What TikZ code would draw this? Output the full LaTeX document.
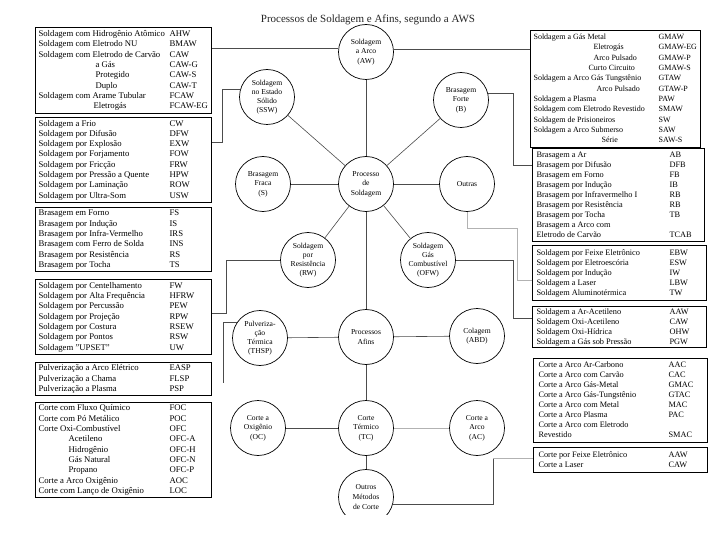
\documentclass[tikz,border=0pt]{standalone}
\usepackage{fontspec}
\setmainfont{Liberation Serif}
\usepackage{array}
\usetikzlibrary{calc}
\newcolumntype{L}[1]{>{\hbox to #1\bgroup}l<{\hss\egroup}}
\begin{document}
\begin{tikzpicture}[x=1pt,y=-1pt,
  circ/.style={draw=black, line width=0.7pt, circle, minimum size=55pt, inner sep=0pt, align=center, font=\fontsize{7.6}{9.6}\selectfont},
  circf/.style={circ, font=\fontsize{7.6}{9}\selectfont},
  lbox/.style={draw=black, line width=1.1pt, anchor=north west, inner ysep=0pt, font=\fontsize{8.7}{10.3}\selectfont},
  rbox/.style={lbox, font=\fontsize{8.3}{10}\selectfont},
  conn/.style={draw=black!70, line width=0.6pt},
  faint/.style={draw=black!30, line width=0.6pt}]
\useasboundingbox[fill=white] (0,0) rectangle (720,540);

\node[font=\fontsize{11}{13}\selectfont, text=black!85] (title) at (368,20) {Processos de Soldagem e Afins, segundo a AWS};

% ---------- circles ----------
\node[circ]  (AW)   at (366,52)  {Soldagem\\a Arco\\(AW)};
\node[circf] (SSW)  at (267,97)  {Soldagem\\no Estado\\Sólido\\(SSW)};
\node[circ]  (B)    at (461,100) {Brasagem\\Forte\\(B)};
\node[circ]  (P)    at (366,184) {Processo\\de\\Soldagem};
\node[circ]  (S)    at (263,184) {Brasagem\\Fraca\\(S)};
\node[circ]  (Out)  at (467,184) {Outras};
\node[circf] (RW)   at (308,260) {Soldagem\\por\\Resistência\\(RW)};
\node[circf] (OFW)  at (428,260) {Soldagem\\Gás\\Combustível\\(OFW)};
\node[circf] (THSP) at (260,338) {Pulveriza-\\ção\\Térmica\\(THSP)};
\node[circ]  (Af)   at (366,337) {Processos\\Afins};
\node[circ]  (ABD)  at (477,336) {Colagem\\(ABD)};
\node[circ]  (OC)   at (258,428) {Corte a\\Oxigênio\\(OC)};
\node[circ]  (TC)   at (366,428) {Corte\\Térmico\\(TC)};
\node[circ]  (AC)   at (477,428) {Corte a\\Arco\\(AC)};
\node[circ, draw=none] (OM) at (366,497) {Outros\\Métodos\\de Corte};
\begin{scope}
  \clip (320,460) rectangle (412,514);
  \draw[line width=0.7pt] (OM.center) circle[radius=27.5pt];
\end{scope}

% ---------- left boxes ----------
\node[lbox, minimum width=164pt, minimum height=86pt, inner xsep=3pt] (b1) at (35,27) {%
\begin{tabular}{@{}L{119pt}L{39pt}@{}}
Soldagem com Hidrogênio Atômico & AHW\\
Soldagem com Eletrodo NU & BMAW\\
Soldagem com Eletrodo de Carvão & CAW\\
\hspace*{57pt}a Gás & CAW-G\\
\hspace*{57pt}Protegido & CAW-S\\
\hspace*{57pt}Duplo & CAW-T\\
Soldagem com Arame Tubular & FCAW\\
\hspace*{55pt}Eletrogás & FCAW-EG
\end{tabular}};

\node[lbox, minimum width=164pt, minimum height=85pt, inner xsep=3pt] (b2) at (35,117) {%
\begin{tabular}{@{}L{119pt}L{39pt}@{}}
Soldagem a Frio & CW\\
Soldagem por Difusão & DFW\\
Soldagem por Explosão & EXW\\
Soldagem por Forjamento & FOW\\
Soldagem por Fricção & FRW\\
Soldagem por Pressão a Quente & HPW\\
Soldagem por Laminação & ROW\\
Soldagem por Ultra-Som & USW
\end{tabular}};

\node[lbox, minimum width=164pt, minimum height=64pt, inner xsep=3pt] (b3) at (35,207) {%
\begin{tabular}{@{}L{119pt}L{39pt}@{}}
Brasagem em Forno & FS\\
Brasagem por Indução & IS\\
Brasagem por Infra-Vermelho & IRS\\
Brasagem com Ferro de Solda & INS\\
Brasagem por Resistência & RS\\
Brasagem por Tocha & TS
\end{tabular}};

\node[lbox, minimum width=164pt, minimum height=75pt, inner xsep=3pt] (b4) at (35,279) {%
\begin{tabular}{@{}L{119pt}L{39pt}@{}}
Soldagem por Centelhamento & FW\\
Soldagem por Alta Frequência & HFRW\\
Soldagem por Percussão & PEW\\
Soldagem por Projeção & RPW\\
Soldagem por Costura & RSEW\\
Soldagem por Pontos & RSW\\
Soldagem "UPSET" & UW
\end{tabular}};

\node[lbox, minimum width=164pt, minimum height=33pt, inner xsep=3pt] (b5) at (35,362) {%
\begin{tabular}{@{}L{119pt}L{39pt}@{}}
Pulverização a Arco Elétrico & EASP\\
Pulverização a Chama & FLSP\\
Pulverização a Plasma & PSP
\end{tabular}};

\node[lbox, minimum width=164pt, minimum height=95pt, inner xsep=3pt] (b6) at (35,402) {%
\begin{tabular}{@{}L{119pt}L{39pt}@{}}
Corte com Fluxo Químico & FOC\\
Corte com Pó Metálico & POC\\
Corte Oxi-Combustível & OFC\\
\hspace*{30pt}Acetileno & OFC-A\\
\hspace*{30pt}Hidrogênio & OFC-H\\
\hspace*{30pt}Gás Natural & OFC-N\\
\hspace*{30pt}Propano & OFC-P\\
Corte a Arco Oxigênio & AOC\\
Corte com Lanço de Oxigênio & LOC
\end{tabular}};

% ---------- right boxes ----------
\node[lbox, font=\fontsize{8}{10.3}\selectfont, minimum width=158pt, minimum height=117pt, inner xsep=3pt] (r1) at (530,30) {%
\begin{tabular}{@{}L{113pt}L{39pt}@{}}
Soldagem a Gás Metal & GMAW\\
\hspace*{60pt}Eletrogás & GMAW-EG\\
\hspace*{60pt}Arco Pulsado & GMAW-P\\
\hspace*{55pt}Curto Circuito & GMAW-S\\
Soldagem a Arco Gás Tungstênio & GTAW\\
\hspace*{63pt}Arco Pulsado & GTAW-P\\
Soldagem a Plasma & PAW\\
Soldagem com Eletrodo Revestido & SMAW\\
Soldagem de Prisioneiros & SW\\
Soldagem a Arco Submerso & SAW\\
\hspace*{68pt}Série & SAW-S
\end{tabular}};

\node[rbox, minimum width=160pt, minimum height=93pt, inner xsep=4pt] (r2) at (532,148) {%
\begin{tabular}{@{}L{121pt}L{31pt}@{}}
Brasagem a Ar & AB\\
Brasagem por Difusão & DFB\\
Brasagem em Forno & FB\\
Brasagem por Indução & IB\\
Brasagem por Infravermelho I & RB\\
Brasagem por Resistência & RB\\
Brasagem por Tocha & TB\\
Brasagem a Arco com & \\
Eletrodo de Carvão & TCAB
\end{tabular}};

\node[rbox, minimum width=162pt, minimum height=55pt, inner xsep=4pt] (r3) at (532,245) {%
\begin{tabular}{@{}L{121pt}L{33pt}@{}}
Soldagem por Feixe Eletrônico & EBW\\
Soldagem por Eletroescória & ESW\\
Soldagem por Indução & IW\\
Soldagem a Laser & LBW\\
Soldagem Aluminotérmica & TW
\end{tabular}};

\node[rbox, minimum width=162pt, minimum height=41pt, inner xsep=4pt] (r4) at (532,306) {%
\begin{tabular}{@{}L{121pt}L{33pt}@{}}
Soldagem a Ar-Acetileno & AAW\\
Soldagem Oxi-Acetileno & CAW\\
Soldagem Oxi-Hídrica & OHW\\
Soldagem a Gás sob Pressão & PGW
\end{tabular}};

\node[rbox, minimum width=162pt, minimum height=84pt, inner xsep=5pt] (r5) at (533,358) {%
\begin{tabular}{@{}L{118pt}L{34pt}@{}}
Corte a Arco Ar-Carbono & AAC\\
Corte a Arco com Carvão & CAC\\
Corte a Arco Gás-Metal & GMAC\\
Corte a Arco Gás-Tungstênio & GTAC\\
Corte a Arco com Metal & MAC\\
Corte a Arco Plasma & PAC\\
Corte a Arco com Eletrodo & \\
Revestido & SMAC
\end{tabular}};

\node[rbox, minimum width=162pt, minimum height=25pt, inner xsep=5pt] (r6) at (533,447) {%
\begin{tabular}{@{}L{118pt}L{34pt}@{}}
Corte por Feixe Eletrônico & AAW\\
Corte a Laser & CAW
\end{tabular}};

% ---------- circle to circle ----------
\draw[conn] (AW) -- (P);
\draw[conn] (SSW) -- (P);
\draw[conn] (B) -- (P);
\draw[conn] (S) -- (P);
\draw[conn] (P) -- (Out);
\draw[conn] (RW) -- (P);
\draw[conn] (OFW) -- (P);
\draw[conn] (P) -- (Af);
\draw[conn] (THSP) -- (Af);
\draw[conn] (Af) -- (ABD);
\draw[conn] (Af) -- (TC);
\draw[conn] (OC) -- (TC);
\draw[faint] (TC) -- (AC);
\draw[conn] (TC.south) -- (OM.north);

% ---------- circle to box ----------
\draw[conn] (AW.172) -- (AW.172 -| b1.east);
\draw[conn] (AW.5) -- (AW.5 -| r1.west);
\coordinate (kSSW) at (222,142);
\draw[conn] (SSW.165) -| (kSSW) -- (kSSW -| b2.east);
\coordinate (kB) at (513,165);
\draw[conn] (B.13) -| (kB) -- (kB -| r2.west);
\coordinate (kO1) at (517,228);
\coordinate (kO2) at (517,280);
\draw[faint] (Out.south) |- (kO1) -- (kO2) -- (kO2 -| r3.west);
\coordinate (kF) at (513,318);
\draw[conn] (OFW.east) -| (kF) -- (kF -| r4.west);
\coordinate (kR) at (226,313);
\draw[conn] (RW.west) -| (kR) -- (kR -| b4.east);
\coordinate (kT) at (223,383);
\draw[conn] (THSP.146) -| (kT);
\coordinate (kM) at (493,458);
\draw[conn] (OM.-15) -| (kM);
\draw[faint] (kM) -- (kM -| r6.west);
\end{tikzpicture}
\end{document}
